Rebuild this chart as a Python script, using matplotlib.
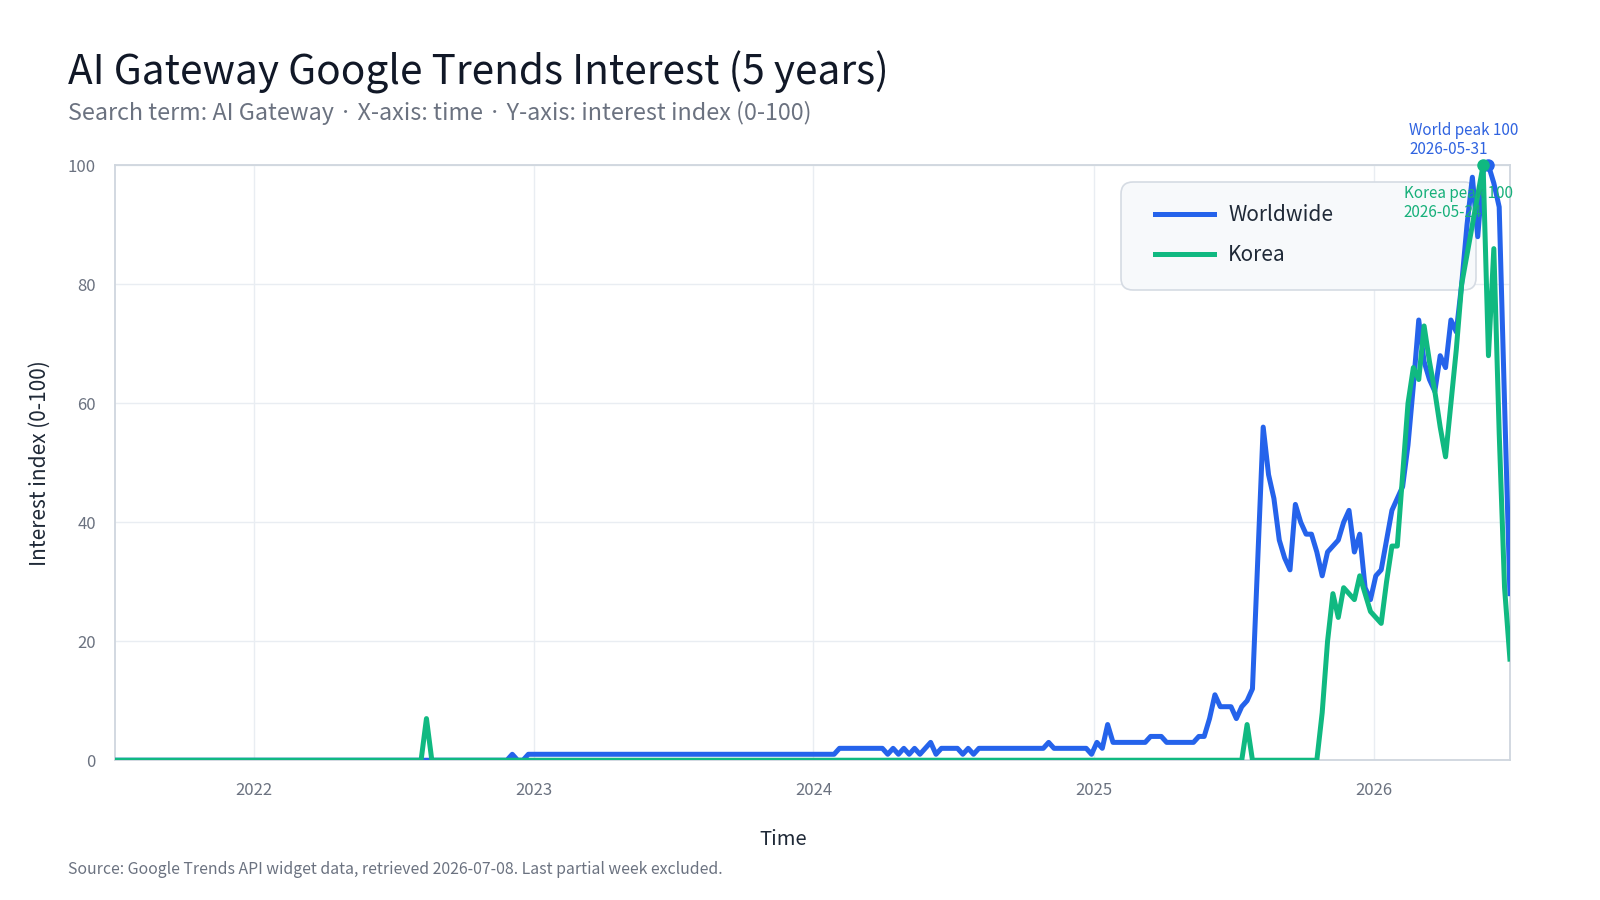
import pandas as pd
import matplotlib
matplotlib.use("Agg")
import matplotlib.pyplot as plt
import matplotlib.dates as mdates
from matplotlib.patches import FancyBboxPatch
from matplotlib.transforms import IdentityTransform

plt.rcParams['font.family'] = ['Noto Sans CJK KR', 'DejaVu Sans']

# weekly Google Trends data, Sundays 2021-07-04 .. 2026-06-28
start_date = '2021-07-04'
n_weeks = 261

worldwide = [
    0, 0, 0, 0, 0, 0, 0, 0, 0, 0, 0, 0, 0, 0, 0, 0, 0, 0, 0, 0, 0, 0, 0, 0, 0, 0,
    0, 0, 0, 0, 0, 0, 0, 0, 0, 0, 0, 0, 0, 0, 0, 0, 0, 0, 0, 0, 0, 0, 0, 0, 0, 0,
    0, 0, 0, 0, 0, 0, 0, 0, 0, 0, 0, 0, 0, 0, 0, 0, 0, 0, 0, 0, 0, 0, 1, 0, 0, 1,
    1, 1, 1, 1, 1, 1, 1, 1, 1, 1, 1, 1, 1, 1, 1, 1, 1, 1, 1, 1, 1, 1, 1, 1, 1, 1,
    1, 1, 1, 1, 1, 1, 1, 1, 1, 1, 1, 1, 1, 1, 1, 1, 1, 1, 1, 1, 1, 1, 1, 1, 1, 1,
    1, 1, 1, 1, 1, 2, 2, 2, 2, 2, 2, 2, 2, 2, 1, 2, 1, 2, 1, 2, 1, 2, 3, 1, 2, 2,
    2, 2, 1, 2, 1, 2, 2, 2, 2, 2, 2, 2, 2, 2, 2, 2, 2, 2, 3, 2, 2, 2, 2, 2, 2, 2,
    1, 3, 2, 6, 3, 3, 3, 3, 3, 3, 3, 4, 4, 4, 3, 3, 3, 3, 3, 3, 4, 4, 7, 11, 9, 9,
    9, 7, 9, 10, 12, 34, 56, 48, 44, 37, 34, 32, 43, 40, 38, 38, 35, 31, 35, 36, 37, 40, 42, 35, 38, 29,
    27, 31, 32, 37, 42, 44, 46, 53, 63, 74, 67, 64, 62, 68, 66, 74, 72, 80, 90, 98, 88, 99, 100, 97, 93, 60,
    28,
]

korea = [
    0, 0, 0, 0, 0, 0, 0, 0, 0, 0, 0, 0, 0, 0, 0, 0, 0, 0, 0, 0, 0, 0, 0, 0, 0, 0,
    0, 0, 0, 0, 0, 0, 0, 0, 0, 0, 0, 0, 0, 0, 0, 0, 0, 0, 0, 0, 0, 0, 0, 0, 0, 0,
    0, 0, 0, 0, 0, 0, 7, 0, 0, 0, 0, 0, 0, 0, 0, 0, 0, 0, 0, 0, 0, 0, 0, 0, 0, 0,
    0, 0, 0, 0, 0, 0, 0, 0, 0, 0, 0, 0, 0, 0, 0, 0, 0, 0, 0, 0, 0, 0, 0, 0, 0, 0,
    0, 0, 0, 0, 0, 0, 0, 0, 0, 0, 0, 0, 0, 0, 0, 0, 0, 0, 0, 0, 0, 0, 0, 0, 0, 0,
    0, 0, 0, 0, 0, 0, 0, 0, 0, 0, 0, 0, 0, 0, 0, 0, 0, 0, 0, 0, 0, 0, 0, 0, 0, 0,
    0, 0, 0, 0, 0, 0, 0, 0, 0, 0, 0, 0, 0, 0, 0, 0, 0, 0, 0, 0, 0, 0, 0, 0, 0, 0,
    0, 0, 0, 0, 0, 0, 0, 0, 0, 0, 0, 0, 0, 0, 0, 0, 0, 0, 0, 0, 0, 0, 0, 0, 0, 0,
    0, 0, 0, 6, 0, 0, 0, 0, 0, 0, 0, 0, 0, 0, 0, 0, 0, 8, 20, 28, 24, 29, 28, 27, 31, 28,
    25, 24, 23, 30, 36, 36, 48, 60, 66, 64, 73, 67, 62, 56, 51, 60, 69, 80, 85, 90, 95, 100, 68, 86, 55, 29,
    17,
]

title = 'AI Gateway Google Trends Interest (5 years)'
subtitle = 'Search term: AI Gateway · X-axis: time · Y-axis: interest index (0-100)'
source = 'Source: Google Trends API widget data, retrieved 2026-07-08. Last partial week excluded.'

blue = '#2563eb'
green = '#10b981'
grey = '#6b7280'

dates = pd.date_range(start_date, periods=n_weeks, freq='7D')
df = pd.DataFrame({'date': dates, 'Worldwide': worldwide, 'Korea': korea})

fig = plt.figure(figsize=(16, 9), dpi=100)
ax = fig.add_axes([0.0721, 0.1553, 0.8716, 0.661])

ax.plot(df['date'], df['Worldwide'], color=blue, lw=3.6, label='Worldwide', zorder=3, solid_joinstyle='round')
ax.plot(df['date'], df['Korea'], color=green, lw=3.6, label='Korea', zorder=4, solid_joinstyle='round')

# peak markers + labels
wi = df['Worldwide'].idxmax()
ki = df['Korea'].idxmax()
ax.plot(df['date'][wi], df['Worldwide'][wi], 'o', color=blue, ms=8, zorder=5, clip_on=False)
ax.plot(df['date'][ki], df['Korea'][ki], 'o', color=green, ms=8, zorder=6, clip_on=False)
ax.annotate('World peak %d\n%s' % (df['Worldwide'][wi], df['date'][wi].strftime('%Y-%m-%d')),
            (df['date'][wi], df['Worldwide'][wi]), xytext=(-57, 5), textcoords='offset points',
            ha='left', va='bottom', fontsize=11, color='#2f63e0', linespacing=1.15, annotation_clip=False)
ax.annotate('Korea peak %d\n%s' % (df['Korea'][ki], df['date'][ki].strftime('%Y-%m-%d')),
            (df['date'][ki], df['Korea'][ki]), xytext=(-57, -14), textcoords='offset points',
            ha='left', va='top', fontsize=11, color='#17b07a', linespacing=1.15, zorder=7)

ax.set_xlim(df['date'].iloc[0], df['date'].iloc[-1])
ax.set_ylim(0, 100)
ax.set_yticks([0, 20, 40, 60, 80, 100])
ax.xaxis.set_major_locator(mdates.YearLocator())
ax.xaxis.set_major_formatter(mdates.DateFormatter('%Y'))

ax.grid(True, color='#e9edf2', lw=1)
ax.set_axisbelow(True)
for s in ax.spines.values():
    s.set_color('#cfd6de')
    s.set_linewidth(1.3)
ax.tick_params(length=0, labelsize=12, labelcolor=grey)
ax.tick_params(axis='y', pad=14)
ax.tick_params(axis='x', pad=16)

ax.set_xlabel('Time', fontsize=14.5, color='#1f2937')
ax.xaxis.set_label_coords(0.4787, -0.116)
ax.set_ylabel('Interest index (0-100)', fontsize=15, color='#1f2937', labelpad=12)

# legend box
box = FancyBboxPatch((1121, 610), 355, 108, boxstyle='round,pad=0,rounding_size=12',
                     transform=IdentityTransform(), facecolor='#f7f9fb', edgecolor='#d5dbe3',
                     lw=1.2, zorder=2)
ax.add_patch(box)
ax.legend(loc='upper left', bbox_to_anchor=(1145 / 1600, 1 - 194 / 900), bbox_transform=fig.transFigure,
          frameon=False, fontsize=15, handlelength=2.8, handletextpad=0.7, labelspacing=0.85,
          labelcolor='#1f2937', borderpad=0)

fig.text(0.0425, 0.92, title, fontsize=29.2, color='#111827', va='center')
fig.text(0.0425, 0.874, subtitle, fontsize=16.8, color=grey, va='center')
fig.text(0.0425, 0.034, source, fontsize=11.4, color=grey, va='center')

fig.savefig('out.png', dpi=100)
